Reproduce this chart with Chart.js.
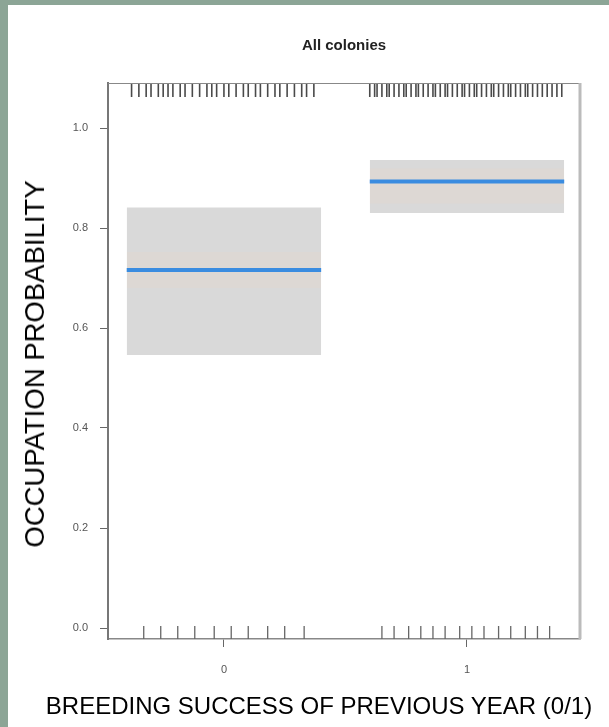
<!DOCTYPE html>
<html lang="en">
<head>
<meta charset="UTF-8">
<title>All colonies</title>
<script src="https://cdn.jsdelivr.net/npm/chart.js@4.4.1/dist/chart.umd.min.js"></script>
<style>
    body { margin: 0; background: #8ca596; width: 609px; height: 727px; overflow: hidden; position: relative; font-family: "Liberation Sans", Arial, sans-serif; }
    .panel { position: absolute; left: 8px; top: 5px; right: 0; bottom: 0; background: #fff; }
    #myChart { position: absolute; left: 0; top: 0; }
    .xtitle { position: absolute; left: 0; top: 694px; width: 638px; text-align: center; font-size: 24px; line-height: 24px; color: #000; white-space: nowrap; }
    .ytitle { position: absolute; left: 35px; top: 364px; transform: translate(-50%, -50%) rotate(-90deg); font-size: 27.5px; line-height: 28px; color: #000; white-space: nowrap; }
</style>
</head>
<body>
<div class="panel"></div>
<canvas id="myChart" width="609" height="727"></canvas>
<div class="xtitle">BREEDING SUCCESS OF PREVIOUS YEAR (0/1)</div>
<div class="ytitle">OCCUPATION PROBABILITY</div>

<script>
    // breeding success of previous year (0/1)
    const groups = [0, 1];
    const fitted = [0.716, 0.893];
    const ciLower = [0.546, 0.830];
    const ciUpper = [0.841, 0.936];
    // faint inner band seen around the fitted line
    const innerLower = [0.680, 0.849];
    const innerUpper = [0.752, 0.919];

    const xTickValues = [0, 1];
    const yTickValues = [0, 0.2, 0.4, 0.6, 0.8, 1.0];

    // jittered observations: occupied (rug on top) / not occupied (rug on bottom)
    const rugTop0 = [-0.38, -0.35, -0.32, -0.30, -0.27, -0.25, -0.23, -0.21, -0.18, -0.16, -0.13, -0.10, -0.07, -0.05, -0.03,
        0.00, 0.02, 0.05, 0.08, 0.10, 0.13, 0.15, 0.18, 0.21, 0.23, 0.26, 0.29, 0.32, 0.34, 0.37];
    const rugTop1 = [0.60, 0.62, 0.63, 0.65, 0.67, 0.68, 0.70, 0.72, 0.74, 0.75, 0.77, 0.79, 0.80, 0.82, 0.84, 0.86,
        0.87, 0.89, 0.91, 0.92, 0.94, 0.96, 0.98, 0.99, 1.01, 1.03, 1.04, 1.06, 1.08, 1.10, 1.11, 1.13,
        1.15, 1.17, 1.18, 1.20, 1.22, 1.24, 1.25, 1.27, 1.29, 1.31, 1.33, 1.35, 1.37, 1.39];
    const rugBottom0 = [-0.33, -0.26, -0.19, -0.12, -0.04, 0.03, 0.10, 0.18, 0.25, 0.33];
    const rugBottom1 = [0.65, 0.70, 0.76, 0.81, 0.86, 0.91, 0.97, 1.02, 1.07, 1.13, 1.18, 1.24, 1.29, 1.34];

    const halfWidth = 0.4;

    function segment(g, v) {
        return [{x: g - halfWidth, y: v}, {x: g + halfWidth, y: v}];
    }

    const datasets = [];
    groups.forEach(function (g, i) {
        datasets.push({data: segment(g, fitted[i]), borderColor: '#3a8ce0', borderWidth: 4, pointRadius: 0, fill: false, order: 0});
        datasets.push({data: segment(g, innerUpper[i]), borderWidth: 0, pointRadius: 0, fill: '+1', backgroundColor: 'rgba(245,205,175,0.13)', order: 1});
        datasets.push({data: segment(g, innerLower[i]), borderWidth: 0, pointRadius: 0, fill: false, order: 1});
        datasets.push({data: segment(g, ciUpper[i]), borderWidth: 0, pointRadius: 0, fill: '+1', backgroundColor: '#d9d9d9', order: 2});
        datasets.push({data: segment(g, ciLower[i]), borderWidth: 0, pointRadius: 0, fill: false, order: 2});
    });

    // rug ticks and the plot frame
    const rugPlugin = {
        id: 'rug',
        afterDatasetsDraw: function (chart) {
            const ctx = chart.ctx;
            const area = chart.chartArea;
            const xs = chart.scales.x;
            ctx.save();
            ctx.strokeStyle = '#4a4a4a';
            ctx.lineWidth = 1.6;
            rugTop0.concat(rugTop1).forEach(function (v) {
                const px = xs.getPixelForValue(v);
                ctx.beginPath();
                ctx.moveTo(px, area.top + 1);
                ctx.lineTo(px, area.top + 14);
                ctx.stroke();
            });
            ctx.strokeStyle = '#666';
            ctx.lineWidth = 1.3;
            rugBottom0.concat(rugBottom1).forEach(function (v) {
                const px = xs.getPixelForValue(v);
                ctx.beginPath();
                ctx.moveTo(px, area.bottom - 13);
                ctx.lineTo(px, area.bottom);
                ctx.stroke();
            });
            // top and right side of the box
            ctx.strokeStyle = '#888';
            ctx.lineWidth = 1;
            ctx.beginPath();
            ctx.moveTo(area.left, area.top + 0.5);
            ctx.lineTo(area.right, area.top + 0.5);
            ctx.stroke();
            ctx.strokeStyle = '#bbb';
            ctx.lineWidth = 3;
            ctx.beginPath();
            ctx.moveTo(area.right, area.top);
            ctx.lineTo(area.right, area.bottom);
            ctx.stroke();
            ctx.restore();
        }
    };

    const tickFont = {family: 'Liberation Sans, Arial, sans-serif', size: 11};

    new Chart(document.getElementById('myChart').getContext('2d'), {
        type: 'line',
        data: {datasets: datasets},
        plugins: [rugPlugin],
        options: {
            responsive: false,
            animation: false,
            events: [],
            layout: {padding: {left: 0, right: 29, top: 0, bottom: 43}},
            plugins: {
                legend: {display: false},
                tooltip: {enabled: false},
                title: {
                    display: true,
                    text: 'All colonies',
                    fullSize: false,
                    color: '#222',
                    font: {family: 'Liberation Sans, Arial, sans-serif', size: 15, weight: 'bold'},
                    padding: {top: 37, bottom: 28}
                }
            },
            scales: {
                x: {
                    type: 'linear',
                    min: -0.477,
                    max: 1.465,
                    afterBuildTicks: function (scale) {
                        scale.ticks = xTickValues.map(function (v) { return {value: v}; });
                    },
                    afterFit: function (scale) { scale.height = 45; },
                    grid: {display: true, drawOnChartArea: false, drawTicks: true, tickLength: 8, color: '#666'},
                    border: {display: true, color: '#888', width: 1.5},
                    ticks: {color: '#555', font: tickFont, padding: 16, maxRotation: 0,
                        callback: function (v) { return String(v); }}
                },
                y: {
                    type: 'linear',
                    min: -0.022,
                    max: 1.09,
                    afterBuildTicks: function (scale) {
                        scale.ticks = yTickValues.map(function (v) { return {value: v}; });
                    },
                    afterFit: function (scale) { scale.width = 108; },
                    grid: {display: true, drawOnChartArea: false, drawTicks: true, tickLength: 8, color: '#666'},
                    border: {display: true, color: '#777', width: 2},
                    ticks: {color: '#555', font: tickFont, padding: 12,
                        callback: function (v) { return v.toFixed(1); }}
                }
            }
        }
    });
</script>
</body>
</html>
